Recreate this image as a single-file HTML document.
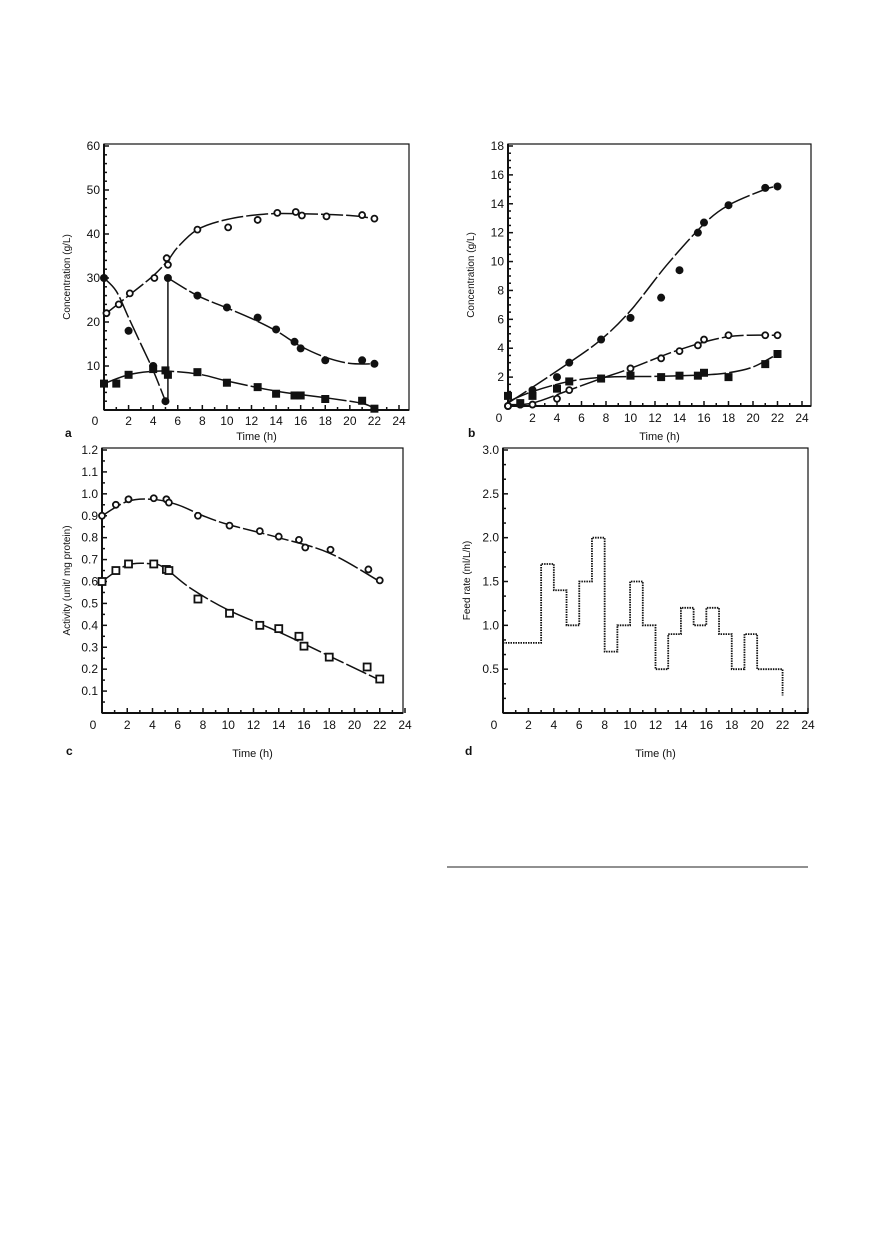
<!DOCTYPE html>
<html><head><meta charset="utf-8">
<style>
html,body{margin:0;padding:0;background:#fff;}
svg{display:block;}
text{font-family:"Liberation Sans",Arial,sans-serif;fill:#111;}
</style></head>
<body>
<svg id="s" width="870" height="1248" viewBox="0 0 870 1248" xmlns="http://www.w3.org/2000/svg">
<line x1="447" y1="867" x2="808" y2="867" stroke="#222" stroke-width="1"/>
</svg>
<script>
const S=document.getElementById('s');const NS='http://www.w3.org/2000/svg';
function el(t,a,txt){const e=document.createElementNS(NS,t);for(const k in a)e.setAttribute(k,a[k]);if(txt!=null)e.textContent=txt;S.appendChild(e);return e;}
function panel(P){
 const X=v=>P.x0+(P.x24-P.x0)*v/24, Y=v=>P.yb+(P.yt-P.yb)*(v-P.ymin)/(P.ymax-P.ymin);
 el('rect',{x:P.x0,y:P.top,width:P.right-P.x0,height:P.yb-P.top,fill:'none',stroke:'#111','stroke-width':1.2});
 el('line',{x1:P.x0,y1:P.top,x2:P.x0,y2:P.yb,stroke:'#111','stroke-width':2});
 el('line',{x1:P.x0,y1:P.yb,x2:P.right,y2:P.yb,stroke:'#111','stroke-width':2});
 for(let i=0;i<=24;i++){const x=X(i);el('line',{x1:x,y1:P.yb,x2:x,y2:P.yb-(i%2?3:5),stroke:'#111','stroke-width':1.5});
  if(i%2==0) el('text',{x:i==0?x-9:x,y:P.yb+P.tly,'font-size':12,'text-anchor':'middle'},String(i));}
 const n=Math.round((P.ymax-P.ymin)/P.ystep);
 for(let j=0;j<=n*P.minor;j++){const v=P.ymin+j*P.ystep/P.minor,y=Y(v);
  el('line',{x1:P.x0,y1:y,x2:P.x0+(j%P.minor?3:5),y2:y,stroke:'#111','stroke-width':1.5});
  if(j%P.minor==0&&j>0) el('text',{x:P.x0-4,y:y+4,'font-size':12,'text-anchor':'end'},P.fmt(v));}
 el('text',{x:P.x0+(P.right-P.x0)/2,y:P.xly,'font-size':11,'text-anchor':'middle'},'Time (h)');
 el('text',{x:0,y:0,'font-size':10,'text-anchor':'middle',transform:`translate(${P.ylx},${(P.top+P.yb)/2}) rotate(-90)`},P.ylab);
 el('text',{x:P.lx,y:P.ly,'font-size':12,'font-family':'Liberation Serif','font-weight':'bold'},P.letter);
 (P.curves||[]).forEach(c=>{const solid=c.solid;const p=c.map(q=>[X(q[0]),Y(q[1])]);
  let d='M'+p[0][0]+','+p[0][1];
  for(let i=0;i<p.length-1;i++){const p0=p[Math.max(0,i-1)],p1=p[i],p2=p[i+1],p3=p[Math.min(p.length-1,i+2)];
   d+=` C${p1[0]+(p2[0]-p0[0])/6},${p1[1]+(p2[1]-p0[1])/6} ${p2[0]-(p3[0]-p1[0])/6},${p2[1]-(p3[1]-p1[1])/6} ${p2[0]},${p2[1]}`;}
  const a={d,fill:'none',stroke:'#111','stroke-width':1.5};if(!solid)a['stroke-dasharray']='22,3';el('path',a);});
 (P.pts||[]).forEach(s=>s.d.forEach(q=>{const x=X(q[0]),y=Y(q[1]);
  if(s.t=='fc')el('circle',{cx:x,cy:y,r:4,fill:'#111'});
  else if(s.t=='oc')el('circle',{cx:x,cy:y,r:3,fill:'#fff',stroke:'#111','stroke-width':1.8});
  else if(s.t=='fs')el('rect',{x:x-4,y:y-4,width:8,height:8,fill:'#111'});
  else el('rect',{x:x-3.5,y:y-3.5,width:7,height:7,fill:'#fff',stroke:'#111','stroke-width':1.8});}));
 if(P.step){let d='';P.step.forEach((q,i)=>{d+=(i?'L':'M')+X(q[0])+','+Y(q[1]);});
  el('path',{d,fill:'none',stroke:'#111','stroke-width':1.8,'stroke-dasharray':'1.5,1'});}
}
const vline=[[5.2,2],[5.2,30]];vline.solid=true;
panel({x0:104,x24:399,right:409,top:144,yb:410,yt:146,ymin:0,ymax:60,ystep:10,minor:5,fmt:v=>String(v),tly:15,
 xly:440,ylx:70,ylab:'Concentration (g/L)',letter:'a',lx:65,ly:437,
 curves:[[[0.2,22],[2,26],[4,30.5],[5.2,34],[6,37],[7.6,41],[10,43.3],[13,44.5],[16,44.6],[20,44.2],[22,43.5]],
  [[0,30],[1,27],[2,21],[3,15],[4,9],[5,2]],vline,
  [[5.2,30],[7.6,26],[10,23.2],[12,20.8],[14,18],[16,14.5],[18,12],[20,10.6],[22,10.5]],
  [[0,6],[2,8],[4,8.8],[6,8.7],[8,8],[10,6.6],[14,4.3],[18,2.8],[21,1.5],[22,0.3]]],
 pts:[{t:'oc',d:[[0.2,22],[1.2,24],[2.1,26.5],[4.1,30],[5.1,34.5],[5.2,33],[7.6,41],[10.1,41.5],[12.5,43.2],[14.1,44.8],[15.6,45],[16.1,44.2],[18.1,44],[21,44.3],[22,43.5]]},
  {t:'fc',d:[[0,30],[2,18],[4,10],[5,2],[5.2,30],[7.6,26],[10,23.3],[12.5,21],[14,18.3],[15.5,15.5],[16,14],[18,11.3],[21,11.3],[22,10.5]]},
  {t:'fs',d:[[0,6],[1,6],[2,8],[4,9.3],[5,9],[5.2,8],[7.6,8.6],[10,6.2],[12.5,5.2],[14,3.7],[15.5,3.3],[16,3.3],[18,2.5],[21,2.1],[22,0.3]]}]});
panel({x0:508,x24:802,right:811,top:144,yb:406,yt:146,ymin:0,ymax:18,ystep:2,minor:4,fmt:v=>String(v),tly:16,
 xly:440,ylx:474,ylab:'Concentration (g/L)',letter:'b',lx:468,ly:437,
 curves:[[[0,0.2],[2,1.3],[5,3],[7.6,4.6],[10,6.6],[13,9.8],[16,12.6],[18,13.9],[21,15],[22,15.2]],
  [[0,0.1],[2,0.2],[5,1.1],[7.6,1.9],[10,2.6],[14,3.9],[18,4.8],[22,4.9]],
  [[0,0.3],[2,1],[5,1.7],[8,2],[12,2.05],[16,2.15],[18,2.3],[20,2.7],[22,3.6]]],
 pts:[{t:'fc',d:[[0,0],[1,0.1],[2,1.1],[4,2],[5,3],[7.6,4.6],[10,6.1],[12.5,7.5],[14,9.4],[15.5,12],[16,12.7],[18,13.9],[21,15.1],[22,15.2]]},
  {t:'oc',d:[[0,0],[1,0.1],[2,0.1],[4,0.5],[5,1.1],[7.6,1.9],[10,2.6],[12.5,3.3],[14,3.8],[15.5,4.2],[16,4.6],[18,4.9],[21,4.9],[22,4.9]]},
  {t:'fs',d:[[0,0.7],[1,0.2],[2,0.7],[4,1.2],[5,1.7],[7.6,1.9],[10,2.1],[12.5,2],[14,2.1],[15.5,2.1],[16,2.3],[18,2],[21,2.9],[22,3.6]]}]});
panel({x0:102,x24:405,right:403,top:448,yb:713,yt:450,ymin:0,ymax:1.2,ystep:0.1,minor:2,fmt:v=>v.toFixed(1),tly:16,
 xly:757,ylx:70,ylab:'Activity (unit/ mg protein)',letter:'c',lx:66,ly:755,
 curves:[[[0,0.9],[2,0.965],[4,0.975],[6,0.95],[8,0.9],[10,0.86],[14,0.8],[18,0.73],[22,0.6]],
  [[0,0.6],[2,0.675],[4,0.68],[5,0.66],[7,0.57],[10,0.47],[14,0.37],[18,0.26],[22,0.15]]],
 pts:[{t:'oc',d:[[0,0.9],[1.1,0.95],[2.1,0.975],[4.1,0.98],[5.1,0.975],[5.3,0.96],[7.6,0.9],[10.1,0.855],[12.5,0.83],[14,0.805],[15.6,0.79],[16.1,0.755],[18.1,0.745],[21.1,0.655],[22,0.605]]},
  {t:'os',d:[[0,0.6],[1.1,0.65],[2.1,0.68],[4.1,0.68],[5.1,0.655],[5.3,0.65],[7.6,0.52],[10.1,0.455],[12.5,0.4],[14,0.385],[15.6,0.35],[16,0.305],[18,0.255],[21,0.21],[22,0.155]]}]});
const st=[[0,.8],[3,.8],[3,1.7],[4,1.7],[4,1.4],[5,1.4],[5,1],[6,1],[6,1.5],[7,1.5],[7,2],[8,2],[8,.7],[9,.7],[9,1],[10,1],[10,1.5],[11,1.5],[11,1],[12,1],[12,.5],[13,.5],[13,.9],[14,.9],[14,1.2],[15,1.2],[15,1],[16,1],[16,1.2],[17,1.2],[17,.9],[18,.9],[18,.5],[19,.5],[19,.9],[20,.9],[20,.5],[22,.5],[22,.2]];
panel({x0:503,x24:808,right:808,top:448,yb:713,yt:450,ymin:0,ymax:3,ystep:0.5,minor:3,fmt:v=>v.toFixed(1),tly:16,
 xly:757,ylx:470,ylab:'Feed rate (ml/L/h)',letter:'d',lx:465,ly:755,step:st});
</script>
</body></html>
